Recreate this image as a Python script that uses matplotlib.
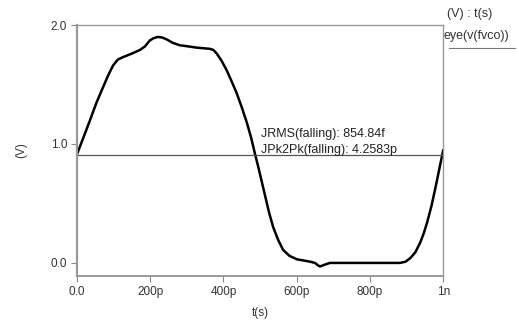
import matplotlib.pyplot as plt

plt.rcParams['font.family'] = ['Liberation Sans', 'DejaVu Sans']

# eye waveform (t in ps, v in V)
t_ps = [0, 10, 20, 36, 54, 72, 86, 99, 112, 126, 150, 172, 186, 199, 210, 221, 233, 245,
        262, 281, 305, 327, 345, 363, 373, 382, 395, 409, 422, 436, 450, 464, 476, 486,
        495, 505, 515, 525, 536, 550, 563, 580, 601, 620, 637, 650, 658, 664,
        672, 681, 691, 720, 760, 800, 850, 882, 897, 910, 924, 937, 947, 956,
        968, 980, 990, 1000]
v = [0.91, 0.99, 1.07, 1.20, 1.35, 1.48, 1.58, 1.66, 1.71, 1.73, 1.76, 1.79, 1.82,
     1.87, 1.89, 1.90, 1.895, 1.88, 1.85, 1.83, 1.82, 1.81, 1.805, 1.80, 1.79, 1.76,
     1.70, 1.62, 1.53, 1.43, 1.31, 1.18, 1.05, 0.92, 0.81, 0.68, 0.55, 0.42, 0.30,
     0.19, 0.11, 0.06, 0.03, 0.02, 0.01, 0.0, -0.02, -0.03, -0.02, -0.01, 0.0, 0.0,
     0.0, 0.0, 0.0, 0.0, 0.01, 0.04, 0.09, 0.17, 0.25, 0.34, 0.48, 0.65, 0.80, 0.95]
crossing = 0.907

x_ticks = [0, 200, 400, 600, 800, 1000]
x_labels = ["0.0", "200p", "400p", "600p", "800p", "1n"]
y_ticks = [0.0, 1.0, 2.0]
y_labels = ["0.0", "1.0", "2.0"]

fig = plt.figure(figsize=(5.19, 3.23), dpi=100)
ax = fig.add_axes([0.148, 0.1455, 0.706, 0.777])

ax.plot(t_ps, v, color="black", lw=1.8, solid_capstyle="round", solid_joinstyle="round")
ax.axhline(crossing, color="#555555", lw=0.9)

ax.set_xlim(0, 1000)
ax.set_ylim(-0.11, 2.0)
ax.set_xticks(x_ticks)
ax.set_xticklabels(x_labels)
ax.set_yticks(y_ticks)
ax.set_yticklabels(y_labels)
ax.tick_params(direction="out", length=4, width=0.8, color="#888888",
               labelsize=8.5, labelcolor="#333333", pad=3)
for s in ax.spines.values():
    s.set_color("#999999")
    s.set_linewidth(1.0)
ax.spines["left"].set_linewidth(1.6)
ax.spines["bottom"].set_linewidth(1.4)

ax.set_xlabel("t(s)", fontsize=8.5, color="#333333", labelpad=7)
ax.set_ylabel("(V)", fontsize=8.5, color="#333333", labelpad=17)

ax.text(504, 1.06, "JRMS(falling): 854.84f", fontsize=9, color="#222222")
ax.text(504, 0.90, "JPk2Pk(falling): 4.2583p", fontsize=9, color="#222222", va="bottom")

# legend-like block at top right
fig.text(0.862, 0.958, "(V) : t(s)", fontsize=9, color="#333333", va="center")
fig.text(0.854, 0.89, "eye(v(fvco))", fontsize=9, color="#333333", va="center")
fig.add_artist(plt.Line2D([0.866, 0.992], [0.852, 0.852], color="#777777", lw=0.8))

fig.savefig("out.png", dpi=100)
